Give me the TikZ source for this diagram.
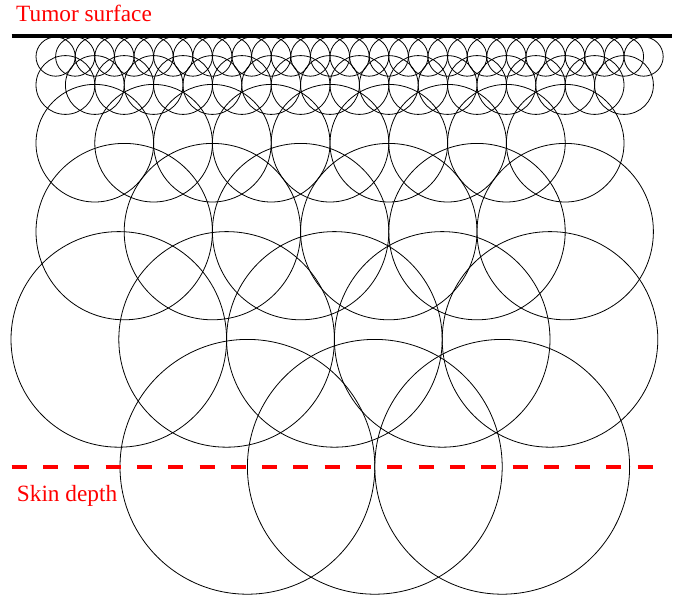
\documentclass[tikz,border=0pt]{standalone}
\usepackage{fontspec}
\setmainfont{Liberation Serif}
\begin{document}
\begin{tikzpicture}[x=1pt,y=-1pt,
  ring/.style={draw=black,line width=0.8pt},
  surfaceline/.style={draw=black,line width=3.5pt},
  depthline/.style={draw=red,line width=4pt,dash pattern=on 15pt off 16.3pt},
  redlabel/.style={text=red,font=\fontsize{23.3}{27}\selectfont,inner sep=0pt,anchor=base west}]
\useasboundingbox (0,0) rectangle (686,602);
% rows of circles: count / radius (= spacing) / first centre x / centre y
\foreach \n/\r/\cx/\cy in {31/19.6/55.6/56.6, 20/29.4/65.4/85, 9/58.8/94.8/143.2, 6/88.2/124.2/231.6, 5/107.8/118.8/339.4, 3/127.4/247.4/466.8} {
  \foreach \i in {1,...,\n} {
    \draw[ring] ({\cx+(\i-1)*\r},\cy) circle [radius=\r];
  }
}
\coordinate (surfL) at (11.7,36);
\coordinate (surfR) at (672,36);
\draw[surfaceline] (surfL) -- (surfR);
\coordinate (depthL) at (11.7,466.7);
\coordinate (depthR) at (653,466.7);
\draw[depthline] (depthL) -- (depthR);
\node[redlabel] (tumor) at (16,21.5) {Tumor surface};
\node[redlabel] (skin) at (16.7,501.5) {Skin depth};
\end{tikzpicture}
\end{document}
